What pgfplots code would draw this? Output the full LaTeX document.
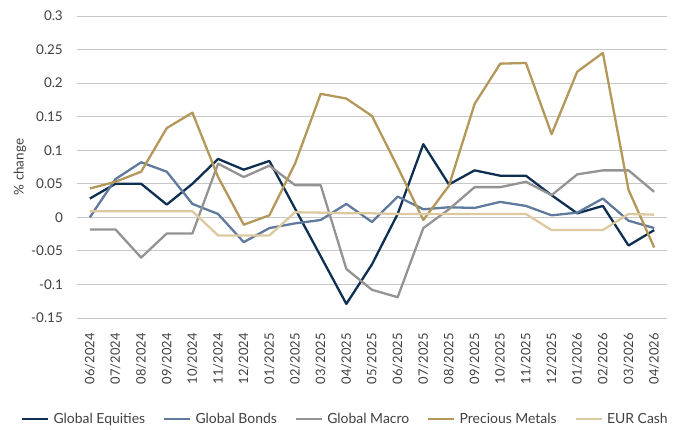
\documentclass[border=0pt]{standalone}
\usepackage{fontspec}
\setmainfont{Lato}
\usepackage{pgfplots}
\pgfplotsset{compat=1.18}
\usepackage{pgfplotstable}

\definecolor{equities}{HTML}{0E2F52}
\definecolor{bonds}{HTML}{5F7A9C}
\definecolor{macro}{HTML}{939393}
\definecolor{metals}{HTML}{B4985A}
\definecolor{cash}{HTML}{DCC9A0}
\definecolor{gridc}{HTML}{C8C8C8}
\definecolor{labelc}{HTML}{404040}

% month index, then one column per strategy
\pgfplotstableread{
m  eq      bd      mc      pm      ca
0  0.028   0.000  -0.018   0.043   0.009
1  0.050   0.057  -0.018   0.053   0.009
2  0.050   0.082  -0.060   0.068   0.009
3  0.019   0.068  -0.024   0.133   0.009
4  0.050   0.020  -0.024   0.156   0.009
5  0.087   0.005   0.080   0.060  -0.027
6  0.071  -0.037   0.060  -0.011  -0.027
7  0.084  -0.016   0.077   0.003  -0.027
8  0.013  -0.009   0.048   0.080   0.0075
9 -0.058  -0.004   0.048   0.184   0.007
10 -0.129  0.020  -0.077   0.177   0.006
11 -0.070 -0.007  -0.108   0.151   0.006
12  0.005  0.031  -0.119   0.075   0.005
13  0.109  0.012  -0.016  -0.004   0.005
14  0.049  0.015   0.012   0.047   0.005
15  0.070  0.014   0.045   0.169   0.005
16  0.062  0.023   0.045   0.229   0.005
17  0.062  0.017   0.053   0.230   0.005
18  0.033  0.003   0.033   0.124  -0.019
19  0.006  0.007   0.064   0.217  -0.019
20  0.017  0.028   0.070   0.245  -0.019
21 -0.042 -0.005   0.070   0.041   0.005
22 -0.019 -0.016   0.038  -0.045   0.004
}\perf

\begin{document}
\begin{tikzpicture}
\path[use as bounding box] (-77bp,-112bp) rectangle (603bp,318bp);
\begin{axis}[
  at={(0,0)}, anchor=south west,
  scale only axis,
  width=590bp, height=302bp,
  xmin=-0.5, xmax=22.5,
  ymin=-0.15, ymax=0.3,
  axis line style={draw=none},
  tick style={draw=none},
  ymajorgrids, grid style={gridc, line width=1bp},
  ytick={-0.15,-0.1,-0.05,0,0.05,0.1,0.15,0.2,0.25,0.3},
  yticklabels={-0.15,-0.1,-0.05,0,0.05,0.1,0.15,0.2,0.25,0.3},
  xtick={0,...,22},
  xticklabels={06/2024,07/2024,08/2024,09/2024,10/2024,11/2024,12/2024,01/2025,02/2025,03/2025,04/2025,05/2025,06/2025,07/2025,08/2025,09/2025,10/2025,11/2025,12/2025,01/2026,02/2026,03/2026,04/2026},
  xticklabel style={yshift=-15bp, rotate=90, anchor=east, font=\fontsize{13}{15}\selectfont, text=labelc, inner sep=0pt},
  yticklabel style={xshift=-14bp, anchor=east, font=\fontsize{13.5}{15}\selectfont, text=labelc, inner sep=0pt},
  xtick pos=bottom,
  ylabel={\% change},
  every axis y label/.style={at={(axis description cs:0,0.5)}, xshift=-57bp, rotate=90, anchor=center,
    font=\fontsize{13.5}{15}\selectfont, text=labelc},
  legend columns=5,
  legend style={draw=none, fill=none, at={(axis description cs:0.455,-0.334)}, anchor=center,
    font=\fontsize{14}{16}\selectfont, text=labelc, inner sep=0pt,
    /tikz/every odd column/.append style={column sep=2bp},
    /tikz/every even column/.append style={column sep=16bp}},
  legend image code/.code={\draw[#1, line width=2.4bp] (0bp,0bp) -- (26bp,0bp);},
  every axis plot/.append style={line width=2.3bp, line join=round},
]
\addplot[equities] table[x=m, y=eq] {\perf};
\addlegendentry{Global Equities}
\addplot[bonds] table[x=m, y=bd] {\perf};
\addlegendentry{Global Bonds}
\addplot[macro] table[x=m, y=mc] {\perf};
\addlegendentry{Global Macro}
\addplot[metals] table[x=m, y=pm] {\perf};
\addlegendentry{Precious Metals}
\addplot[cash] table[x=m, y=ca] {\perf};
\addlegendentry{EUR Cash}
\end{axis}
\end{tikzpicture}
\end{document}
